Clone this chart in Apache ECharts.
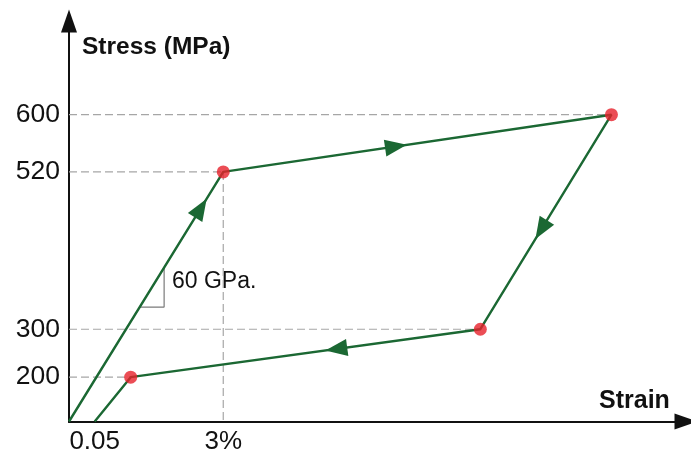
<!DOCTYPE html>
<html>
<head>
<meta charset="utf-8">
<script src="https://cdn.jsdelivr.net/npm/echarts@6/dist/echarts.min.js"></script>
<style>
  html, body { margin: 0; padding: 0; background: #fff; }
  #chart { width: 691px; height: 453px; }
</style>
</head>
<body>
<div id="chart"></div>
<script>
// Cyclic loading path: strain (%) and stress (MPa) at each vertex, in order
const strain = [0, 3, 3.755, 3.5, 0.12, 0.05];
const stress = [0, 520, 600, 300, 200, 0];
// Path vertices drawn with a dot
const markedPoints = [1, 2, 3, 4];
// Tick labels on both axes
const stressTicks = [200, 300, 520, 600];
const strainTicks = [0.05, 3];
const strainTickText = ['0.05', '3%'];
// Slope triangle showing the elastic modulus
const slopeStrain = [0.138, 0.185, 0.185];
const slopeStress = [331, 331, 386];
const slopeText = '60 GPa.';
// Axis titles
const stressTitle = 'Stress (MPa)';
const strainTitle = 'Strain';

// Direction arrows: path segment index and where along it the arrow sits
const arrowSegments = [0, 1, 2, 3];
const arrowAt = [0.855, 0.445, 0.536, 0.412];

const FONT = '"Liberation Sans", Arial, sans-serif';
const GREEN = '#1b6833';
const RED = '#e6212a';
const GUIDE = '#a6a6a6';
const INK = '#111111';

const pathData = strain.map((x, i) => [x, stress[i]]);

// Dashed guides from the stress axis to each dot, plus a drop line at 3 %
const guideSeries = markedPoints.map(i => ({
  type: 'line',
  data: [[0, stress[i]], [strain[i], stress[i]]],
  symbol: 'none', silent: true, z: 1,
  lineStyle: { color: GUIDE, width: 1.2, type: [8, 4] }
}));
guideSeries.push({
  type: 'line',
  data: [[strain[1], stress[1]], [strain[1], 0]],
  symbol: 'none', silent: true, z: 1,
  lineStyle: { color: GUIDE, width: 1.2, type: [8, 4] }
});

const arrowData = arrowSegments.map((s, k) => [
  strain[s], stress[s], strain[s + 1], stress[s + 1], arrowAt[k]
]);

function renderArrow(params, api) {
  const p1 = api.coord([api.value(0), api.value(1)]);
  const p2 = api.coord([api.value(2), api.value(3)]);
  const t = api.value(4);
  const cx = p1[0] + (p2[0] - p1[0]) * t;
  const cy = p1[1] + (p2[1] - p1[1]) * t;
  const a = Math.atan2(p2[1] - p1[1], p2[0] - p1[0]);
  const L = 22, W = 17;
  const ux = Math.cos(a), uy = Math.sin(a);
  const px = -uy, py = ux;
  const tip = [cx + ux * L / 2, cy + uy * L / 2];
  const bx = cx - ux * L / 2, by = cy - uy * L / 2;
  return {
    type: 'polygon',
    shape: { points: [tip, [bx + px * W / 2, by + py * W / 2], [bx - px * W / 2, by - py * W / 2]] },
    style: { fill: GREEN }
  };
}

const chart = echarts.init(document.getElementById('chart'), null, { renderer: 'canvas' });
chart.setOption({
  animation: false,
  backgroundColor: '#fff',
  grid: { left: 69, right: 5, top: 21, bottom: 31.5, containLabel: false, outerBoundsMode: 'none' },
  xAxis: {
    type: 'value', min: 0, max: 3.9,
    breaks: [{ start: 0.2, end: 2.9, gap: 0 }],
    breakArea: { show: false },
    axisLine: { show: true, onZero: false, symbol: ['none', 'triangle'], symbolSize: [16, 23],
      lineStyle: { color: INK, width: 2 } },
    axisTick: { show: false },
    splitLine: { show: false },
    axisLabel: {
      customValues: strainTicks,
      formatter: v => { const i = strainTicks.indexOf(v); return i >= 0 ? strainTickText[i] : String(v); },
      fontSize: 26, color: INK, fontFamily: FONT, margin: 7
    }
  },
  yAxis: {
    type: 'value', min: 0, max: 731,
    breaks: [{ start: 30, end: 168, gap: 0 }, { start: 220, end: 253, gap: 0 }],
    breakArea: { show: false },
    axisLine: { show: true, onZero: false, symbol: ['none', 'triangle'], symbolSize: [16, 23],
      lineStyle: { color: INK, width: 2 } },
    axisTick: { show: false },
    splitLine: { show: false },
    axisLabel: { customValues: stressTicks, fontSize: 26.5, color: INK, fontFamily: FONT, margin: 9 }
  },
  graphic: [
    { type: 'text', x: 82, y: 47, silent: true,
      style: { text: stressTitle, font: 'bold 24.5px ' + FONT, fill: INK, align: 'left', verticalAlign: 'middle' } },
    { type: 'text', x: 599, y: 401, silent: true,
      style: { text: strainTitle, font: 'bold 25px ' + FONT, fill: INK, align: 'left', verticalAlign: 'middle' } },
    { type: 'text', x: 172, y: 282, silent: true,
      style: { text: slopeText, font: '23px ' + FONT, fill: INK, align: 'left', verticalAlign: 'middle' } }
  ],
  series: [
    ...guideSeries,
    {
      type: 'line', data: slopeStrain.map((x, i) => [x, slopeStress[i]]),
      symbol: 'none', silent: true, z: 2,
      lineStyle: { color: '#7a7a7a', width: 1.2 }
    },
    {
      type: 'line', data: pathData, symbol: 'none', silent: true, z: 3,
      lineStyle: { color: GREEN, width: 2.4 }
    },
    {
      type: 'custom', data: arrowData, renderItem: renderArrow, silent: true, z: 4,
      encode: { x: [0, 2], y: [1, 3] }
    },
    {
      type: 'scatter', data: markedPoints.map(i => pathData[i]),
      symbol: 'circle', symbolSize: 13, silent: true, z: 5,
      itemStyle: { color: RED }
    }
  ]
});
</script>
</body>
</html>
